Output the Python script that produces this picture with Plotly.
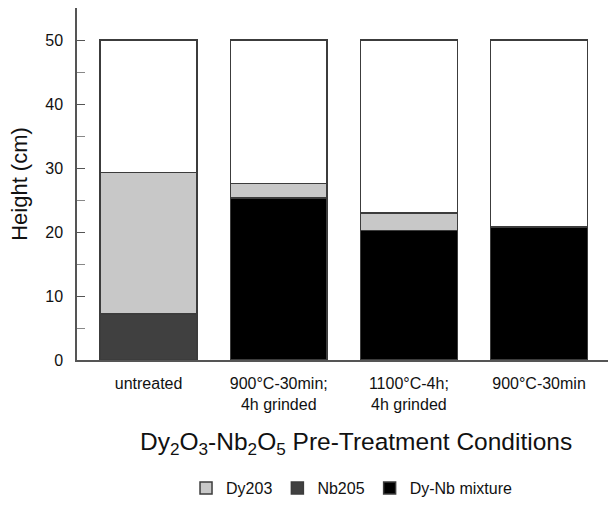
import plotly.graph_objects as go

# Pre-treatment conditions (x categories)
conditions = ["untreated", "900°C-30min;<br>4h grinded", "1100°C-4h;<br>4h grinded", "900°C-30min"]

# Layer heights (cm) per condition
dy2o3 = [22.1, 2.3, 2.8, 0.0]
nb2o5 = [7.2, 0.0, 0.0, 0.0]
dynb_mixture = [0.0, 25.3, 20.2, 20.8]
column_height = [50.0, 50.0, 50.0, 50.0]

# remaining empty part of each column
empty = [h - a - b - c for h, a, b, c in zip(column_height, dy2o3, nb2o5, dynb_mixture)]

FONT = "Liberation Sans, Arial, Helvetica, sans-serif"
OUTLINE = dict(color="#3c3c3c", width=1.5)
WIDTH = 0.745

fig = go.Figure()
fig.add_trace(go.Bar(x=conditions, y=nb2o5, name="Nb205", marker=dict(color="#404040", line=OUTLINE),
                     width=WIDTH, legendrank=2))
fig.add_trace(go.Bar(x=conditions, y=dynb_mixture, name="Dy-Nb mixture", marker=dict(color="#000000", line=OUTLINE),
                     width=WIDTH, legendrank=3))
fig.add_trace(go.Bar(x=conditions, y=dy2o3, name="Dy203", marker=dict(color="#c8c8c8", line=OUTLINE),
                     width=WIDTH, legendrank=1))
fig.add_trace(go.Bar(x=conditions, y=empty, name="empty", marker=dict(color="#ffffff", line=OUTLINE),
                     width=WIDTH, showlegend=False))

fig.update_layout(
    barmode="stack",
    width=610, height=507,
    margin=dict(l=77, r=2, t=8, b=142),
    paper_bgcolor="white", plot_bgcolor="white",
    font=dict(family=FONT, size=16, color="#111111"),
    showlegend=True,
    legend=dict(orientation="h", x=0.517, xanchor="center", y=-0.364, yanchor="middle",
                font=dict(size=16), traceorder="normal", itemwidth=30,
                bgcolor="rgba(0,0,0,0)"),
    annotations=[dict(text="Dy<sub>2</sub>O<sub>3</sub>-Nb<sub>2</sub>O<sub>5</sub> Pre-Treatment Conditions",
                      xref="paper", yref="paper", x=0.525, y=-0.237, xanchor="center", yanchor="middle",
                      showarrow=False, font=dict(size=24.5, family=FONT, color="#111111"))],
)

fig.update_xaxes(
    type="category", range=[-0.55, 3.53],
    showline=True, linecolor="#555555", linewidth=1.5,
    ticks="", showgrid=False, zeroline=False,
    tickfont=dict(size=16), ticklabelstandoff=8,
)
fig.update_yaxes(
    range=[0, 55], tickvals=[0, 10, 20, 30, 40, 50],
    showline=True, linecolor="#555555", linewidth=1.5,
    ticks="inside", ticklen=8, tickwidth=1.2, tickcolor="#555555",
    minor=dict(tickvals=[5, 15, 25, 35, 45, 55], ticks="inside", ticklen=8, tickwidth=1, tickcolor="#888888"),
    showgrid=False, zeroline=False,
    tickfont=dict(size=16), ticklabelstandoff=9,
    title=dict(text="Height (cm)", font=dict(size=22), standoff=12),
)

fig.write_html("out.html")
